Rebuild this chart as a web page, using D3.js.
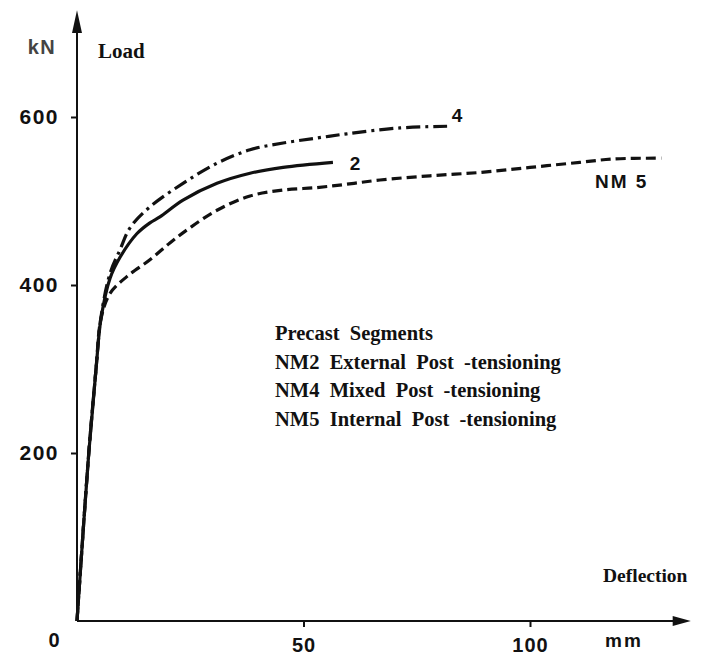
<!DOCTYPE html>
<html>
<head>
<meta charset="utf-8">
<script src="https://cdn.jsdelivr.net/npm/d3@7"></script>
<style>
  html, body { margin: 0; padding: 0; background: #fff; }
  svg { display: block; }
  .sans { font-family: "Liberation Sans", Arial, sans-serif; font-weight: bold; }
  .serif { font-family: "Liberation Serif", "Times New Roman", serif; font-weight: bold; }
</style>
</head>
<body>
<svg id="chart" width="704" height="669"></svg>
<script>
// ---- data (deflection in mm, load in kN) ----
const xTicks = [0, 50, 100];
const yTicks = [200, 400, 600];

const deflNM2 = [0, 2.6, 4.2, 5.3, 7.3, 9.5, 13.2, 16.1, 18.3, 23.4, 30.9, 38.2, 45.5, 56.5];
const loadNM2 = [0, 200, 300, 360, 408, 433, 461, 474, 481, 501, 521, 533, 540, 546];

const deflNM4 = [0, 2.6, 4.2, 5.3, 7.3, 9.5, 11.7, 16.1, 23.4, 30.9, 38.2, 45.5, 53.0, 59.6, 71.3, 81.7];
const loadNM4 = [0, 200, 300, 362, 414, 442, 468, 493, 521, 545, 561, 569, 575, 580, 587, 589];

const deflNM5 = [0, 2.6, 4.2, 5.3, 7.3, 11.0, 16.1, 20.5, 24.9, 30.9, 38.2, 45.5, 53.0, 59.6, 66.9, 77.9, 89.0, 100.0, 111.0, 118.3, 129.0];
const loadNM5 = [0, 200, 300, 360, 390, 410, 430, 450, 468, 489, 506, 513, 516, 520, 525, 530, 534, 540, 546, 550, 551];

const legendLines = [
  "Precast  Segments",
  "NM2  External  Post  -tensioning",
  "NM4  Mixed  Post  -tensioning",
  "NM5  Internal  Post  -tensioning"
];

// ---- scales ----
const x = d3.scaleLinear().domain([0, 100]).range([77, 530]);
const y = d3.scaleLinear().domain([0, 600]).range([621, 117]);

const svg = d3.select("#chart");
const ink = "#111";

// axes lines with arrows
svg.append("line").attr("x1", x(0)).attr("y1", y(0)).attr("x2", x(0)).attr("y2", y(715))
  .attr("stroke", ink).attr("stroke-width", 2);
svg.append("path")
  .attr("d", `M${x(0)-5},${y(700)} L${x(0)},${y(727)} L${x(0)+5},${y(700)} Z`)
  .attr("fill", ink);
svg.append("line").attr("x1", x(0)).attr("y1", y(0)).attr("x2", x(133)).attr("y2", y(0))
  .attr("stroke", ink).attr("stroke-width", 2);
svg.append("path")
  .attr("d", `M${x(131.5)},${y(0)-5} L${x(135.5)},${y(0)} L${x(131.5)},${y(0)+5} Z`)
  .attr("fill", ink);

// y ticks (left side)
const yAxis = d3.axisLeft(y).tickValues(yTicks).tickSize(6).tickPadding(6).tickFormat(d3.format("d"));
const gy = svg.append("g").attr("transform", `translate(${x(0)},0)`).call(yAxis);
gy.select(".domain").remove();
gy.selectAll(".tick line").attr("stroke", ink).attr("stroke-width", 2);
gy.selectAll(".tick text").attr("class", "sans").attr("font-size", 21)
  .attr("letter-spacing", 1.5).attr("fill", ink).attr("x", -18);

// x ticks (below)
const xAxis = d3.axisBottom(x).tickValues(xTicks.filter(d => d > 0)).tickSize(6).tickPadding(11).tickFormat(d3.format("d"));
const gx = svg.append("g").attr("transform", `translate(0,${y(0)})`).call(xAxis);
gx.select(".domain").remove();
gx.selectAll(".tick line").attr("stroke", ink).attr("stroke-width", 2);
gx.selectAll(".tick text").attr("class", "sans").attr("font-size", 20)
  .attr("letter-spacing", 1).attr("fill", ink);

// origin label
svg.append("text").attr("class", "sans").attr("x", 54).attr("y", 647)
  .attr("text-anchor", "middle").attr("font-size", 20).attr("fill", ink).text("0");
svg.append("text").attr("class", "sans").attr("x", 624).attr("y", 647)
  .attr("text-anchor", "middle").attr("font-size", 19).attr("letter-spacing", 2).attr("fill", ink).text("mm");

// axis titles
svg.append("text").attr("class", "sans").attr("x", 42).attr("y", 54)
  .attr("text-anchor", "middle").attr("font-size", 20).attr("letter-spacing", 1.5).attr("fill", "#444").text("kN");
svg.append("text").attr("class", "serif").attr("x", 98).attr("y", 58)
  .attr("font-size", 21).attr("fill", ink).text("Load");
svg.append("text").attr("class", "serif").attr("x", 603).attr("y", 582)
  .attr("font-size", 19.5).attr("fill", ink).text("Deflection");

// curves
const line = d3.line().x(d => x(d[0])).y(d => y(d[1])).curve(d3.curveCatmullRom.alpha(0.5));
const series = [
  { defl: deflNM5, load: loadNM5, dash: "10,5" },
  { defl: deflNM4, load: loadNM4, dash: "14,5,3,5" },
  { defl: deflNM2, load: loadNM2, dash: null }
];
series.forEach(s => {
  const pts = s.defl.map((d, i) => [d, s.load[i]]);
  svg.append("path").datum(pts).attr("d", line)
    .attr("fill", "none").attr("stroke", ink).attr("stroke-width", 3.2)
    .attr("stroke-linejoin", "round")
    .attr("stroke-dasharray", s.dash);
});

// curve labels
svg.append("text").attr("class", "sans").attr("x", 457).attr("y", 122)
  .attr("text-anchor", "middle").attr("font-size", 19).attr("fill", ink).text("4");
svg.append("text").attr("class", "sans").attr("x", 355).attr("y", 170)
  .attr("text-anchor", "middle").attr("font-size", 19).attr("fill", ink).text("2");
svg.append("text").attr("class", "sans").attr("x", 595).attr("y", 188)
  .attr("font-size", 19).attr("letter-spacing", 2).attr("fill", ink).text("NM 5");

// legend text
svg.append("g").selectAll("text").data(legendLines).join("text")
  .attr("class", "serif")
  .attr("x", 275)
  .attr("y", (d, i) => 340 + i * 28.5)
  .attr("font-size", 20.5)
  .attr("fill", ink)
  .style("white-space", "pre")
  .text(d => d);
</script>
</body>
</html>
